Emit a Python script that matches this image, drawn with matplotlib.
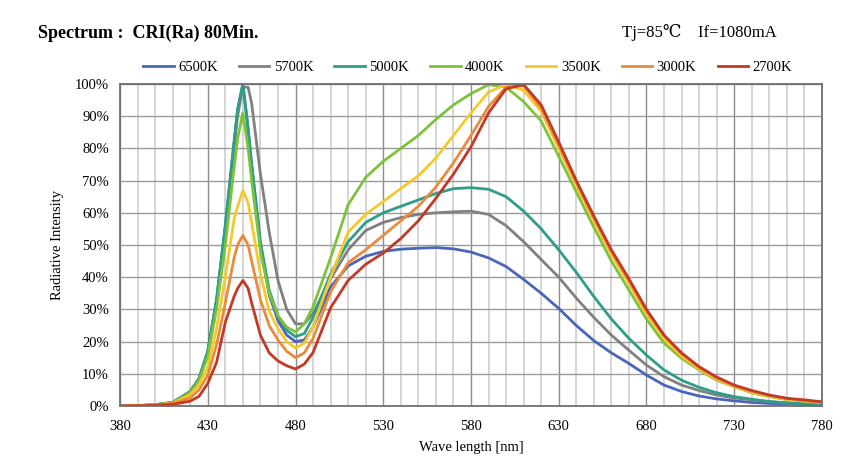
import numpy as np
import matplotlib
matplotlib.use('Agg')
import matplotlib.pyplot as plt
from matplotlib.ticker import FixedLocator, MultipleLocator, FuncFormatter

# wavelength grid [nm]
wave = [380, 390, 400, 410, 420, 425, 430, 435, 440, 445, 447, 450, 453, 455, 460, 465, 470, 475, 480, 485, 490,
        500, 510, 520, 530, 540, 550, 560, 570, 580, 590, 600, 610, 620, 630, 640, 650, 660, 670,
        680, 690, 700, 710, 720, 730, 740, 750, 760, 770, 780]

cct_6500 = [0, 0.1, 0.4, 1.1, 4.5, 8.5, 17, 33, 56, 82, 92, 100, 86, 75, 50, 34.5, 26.5, 22, 20, 20.5, 24.5,
            37, 43.5, 46.5, 48, 48.7, 49, 49.2, 48.8, 47.8, 46, 43.3, 39.3, 35, 30.3, 25, 20.3, 16.5, 13.2,
            9.6, 6.5, 4.5, 3.1, 2.2, 1.6, 1.1, 0.8, 0.6, 0.4, 0.3]
cct_5700 = [0, 0.1, 0.4, 1.1, 4.5, 8.5, 16.5, 32, 54, 80, 90, 99, 99, 94, 72, 54, 39, 30, 25.5, 25.5, 28.8,
            39.5, 48.5, 54.5, 57, 58.5, 59.5, 60, 60.3, 60.5, 59.5, 56, 51, 45.5, 40, 33.5, 27.5, 22, 17.3,
            12.7, 9.1, 6.5, 4.8, 3.4, 2.5, 1.9, 1.3, 0.9, 0.7, 0.5]
cct_5000 = [0, 0.1, 0.4, 1.1, 4.5, 8.5, 17, 33, 56, 82, 92, 100, 86, 75, 51, 36, 28, 23.5, 21.5, 22.5, 27.5,
            41, 51, 57, 60, 62, 64, 66, 67.5, 67.8, 67.3, 65, 60.5, 55, 48.5, 41.5, 34, 27, 21,
            15.8, 11.2, 8, 5.8, 4.1, 2.9, 2.1, 1.4, 1, 0.7, 0.5]
cct_4000 = [0, 0.1, 0.4, 1.0, 4.2, 8, 15.5, 30, 50, 74, 83, 91, 80, 70, 48, 35, 28, 24.5, 23, 25.5, 30.8,
            46, 62.5, 71, 76, 80, 84, 89, 93.5, 97, 99.8, 99, 94.5, 88.5, 77.5, 66.5, 55.5, 45, 36,
            27, 19.5, 14.8, 11.2, 8, 6, 4.1, 2.9, 2, 1.5, 1.1]
cct_3500 = [0, 0.1, 0.3, 0.9, 3.5, 6.5, 12, 24, 40, 58, 62, 67, 63, 57, 41, 29.5, 24, 20, 18, 19.5, 24.6,
            40, 54, 59.5, 63.5, 67.5, 71.5, 77, 84, 91, 97.5, 99.8, 98, 91.5, 80, 68.5, 57.5, 47, 38,
            28.5, 21, 15.5, 11.5, 8.3, 6, 4.3, 3, 2.1, 1.5, 1.1]
cct_3000 = [0, 0.1, 0.3, 0.8, 2.5, 5, 9.5, 19, 32, 46, 50, 53, 50, 45, 33, 25, 20.5, 17, 15, 16.5, 21,
            35.5, 44.5, 48.5, 53, 57.5, 62, 68, 75.5, 84, 93, 99, 99.5, 92.5, 81, 69.5, 58.5, 48, 39,
            29.5, 22, 16.2, 12, 8.7, 6.3, 4.6, 3.3, 2.3, 1.7, 1.2]
cct_2700 = [0, 0.1, 0.2, 0.5, 1.5, 3, 7, 13.5, 26, 34, 36.5, 39, 36.5, 32, 22, 16.5, 14, 12.5, 11.5, 13, 16.6,
            30.5, 39, 44, 47.5, 52, 57.5, 64.5, 72, 80.5, 91, 98.5, 99.8, 93.5, 82, 70, 59, 48.5, 39.5,
            30, 22, 16.5, 12.2, 9, 6.5, 4.8, 3.4, 2.4, 1.9, 1.3]

labels = ['6500K', '5700K', '5000K', '4000K', '3500K', '3000K', '2700K']
series = [cct_6500, cct_5700, cct_5000, cct_4000, cct_3500, cct_3000, cct_2700]
colors = ['#4a66b8', '#808080', '#2e9e88', '#7cc23a', '#f4c92c', '#ec8a3a', '#c23a26']

serif = ['Liberation Serif', 'DejaVu Serif']
plt.rcParams['font.family'] = serif

fig = plt.figure(figsize=(8.58, 4.71), dpi=100)
ax = fig.add_axes([0.1399, 0.138, 0.8181, 0.6837])

for vals, lab, col in zip(series, labels, colors):
    ax.plot(wave, vals, color=col, lw=2.0, label=lab, solid_joinstyle='round')

ax.set_xlim(380, 780)
ax.set_ylim(0, 100)
ax.xaxis.set_major_locator(FixedLocator(np.arange(380, 781, 50)))
ax.xaxis.set_minor_locator(FixedLocator(np.arange(380, 781, 10)))
ax.yaxis.set_major_locator(MultipleLocator(10))
ax.yaxis.set_major_formatter(FuncFormatter(lambda v, p: '{:d}%'.format(int(round(v)))))
ax.grid(which='minor', axis='x', color='#d2d2d2', lw=1.3)
ax.grid(which='major', axis='x', color='#8c8c8c', lw=1.0)
ax.grid(which='major', axis='y', color='#9a9a9a', lw=1.0)
ax.set_axisbelow(True)
for s in ax.spines.values():
    s.set_color('#707070')
    s.set_linewidth(1.3)
ax.tick_params(which='both', length=0, labelsize=10.5)
ax.tick_params(axis='x', pad=10)
ax.tick_params(axis='y', pad=8)

ax.set_xlabel('Wave length [nm]', fontsize=10.5, labelpad=6)
ax.set_ylabel('Radiative Intensity', fontsize=10.5, labelpad=8)

fig.text(0.044, 0.93, 'Spectrum :  CRI(Ra) 80Min.', fontsize=13, fontweight='bold', va='center')
fig.text(0.725, 0.93, 'Tj=85\u2103    If=1080mA', fontsize=12, va='center')

ax.legend(loc='lower left', bbox_to_anchor=(0.018, 1.0), ncol=7, frameon=False, fontsize=10.5,
          handlelength=2.1, handletextpad=0.3, columnspacing=1.45, borderaxespad=0.3)

fig.savefig('out.png', dpi=100)
